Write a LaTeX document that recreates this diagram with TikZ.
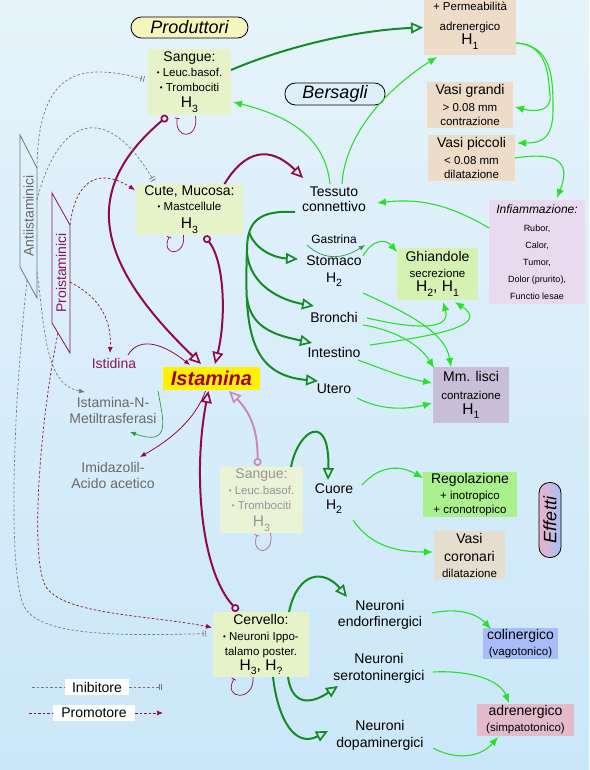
\documentclass[tikz,border=0pt]{standalone}
\usepackage{fontspec}
\setmainfont{Liberation Sans}
\usetikzlibrary{arrows.meta}
\definecolor{magc}{RGB}{145,10,80}
\definecolor{magf}{RGB}{200,140,180}
\definecolor{magl}{RGB}{175,100,155}
\definecolor{dgreen}{RGB}{20,140,35}
\definecolor{bgreen}{RGB}{40,225,40}
\definecolor{mgreen}{RGB}{40,160,60}
\definecolor{grayd}{RGB}{120,120,120}
\definecolor{graytx}{RGB}{105,105,105}
\definecolor{grayf}{RGB}{150,150,150}
\definecolor{grbox}{RGB}{230,243,200}
\definecolor{grbox2}{RGB}{234,243,214}
\definecolor{tanc}{RGB}{236,220,200}
\definecolor{vcorc}{RGB}{229,221,205}
\definecolor{inflc}{RGB}{233,218,240}
\definecolor{ghiac}{RGB}{214,242,178}
\definecolor{mmlc}{RGB}{200,190,215}
\definecolor{regoc}{RGB}{170,240,140}
\definecolor{colic}{RGB}{168,188,248}
\definecolor{adrec}{RGB}{226,186,202}
\definecolor{istc}{RGB}{160,0,70}
\definecolor{prodc}{RGB}{245,245,190}
\definecolor{bersc}{RGB}{222,239,250}
\definecolor{bgtop}{RGB}{230,243,250}
\definecolor{bgbot}{RGB}{202,231,249}
\definecolor{effa}{RGB}{168,190,248}
\definecolor{effb}{RGB}{236,178,200}
\definecolor{protx}{RGB}{140,20,90}
\newcommand\fA{\fontsize{14}{16}\selectfont}
\newcommand\fB{\fontsize{11.5}{14}\selectfont}
\newcommand\fH{\fontsize{15.5}{17}\selectfont}
\newcommand\fC{\fontsize{9}{11}\selectfont}
\newcommand\hsub[1]{\raisebox{-0.3em}{\fontsize{10.5}{11}\selectfont #1}}
\newcommand\bsk[1]{\fontsize{11}{#1}\selectfont}
\newcommand\bul{\raisebox{1.2pt}{\fontsize{8}{8}\selectfont •}}
\begin{document}
\begin{tikzpicture}[x=1pt,y=-1pt,
 box/.style={rectangle,inner sep=0pt,align=center},
 lbl/.style={inner sep=1pt,align=center},
 pill/.style={rectangle,rounded corners=10.5pt,draw=black,line width=0.8pt,inner sep=0pt},
 mth/.style={draw=magc,line width=2pt,{Circle[open,length=8pt,width=8pt,line width=1.7pt]}-{Triangle[open,length=12pt,width=11pt,line width=1.7pt]}},
 mtha/.style={draw=magc,line width=2pt,-{Triangle[open,length=12pt,width=11pt,line width=1.7pt]}},
 mthf/.style={draw=magf,line width=2pt,{Circle[open,length=8pt,width=8pt,line width=1.7pt]}-{Triangle[open,length=12pt,width=11pt,line width=1.7pt]}},
 gth/.style={draw=dgreen,line width=2pt,-{Triangle[open,length=12pt,width=11pt,line width=1.7pt]}},
 gtn/.style={draw=bgreen,line width=1.1pt,-{Latex[length=9pt,width=7.5pt]}},
 gtnm/.style={draw=mgreen,line width=0.7pt,-{Latex[length=6pt,width=5pt]}},
 mtn/.style={draw=magc,line width=0.8pt,-{Latex[length=6pt,width=5pt]}},
 inh/.style={draw=grayd,line width=0.7pt,dash pattern=on 2.5pt off 2pt,-{Bar[width=6pt,line width=0.7pt,sep=2pt]Bar[width=6pt,line width=0.7pt,sep=3pt]}},
 inhl/.style={draw=grayd,line width=0.7pt,dash pattern=on 2.5pt off 2pt},
 ginh/.style={draw=grayd,line width=0.7pt,dash pattern=on 2.5pt off 2pt,-{Latex[length=6pt,width=5pt]}},
 prm/.style={draw=magc,line width=0.7pt,dash pattern=on 2.5pt off 2pt,-{Latex[length=6pt,width=5pt]}},
 prml/.style={draw=magc,line width=0.7pt,dash pattern=on 2.5pt off 2pt},
 lp/.style={draw=magc,line width=0.7pt,-{Bar[width=5pt,line width=0.7pt,sep=2pt]}}
]
\useasboundingbox (0,0) rectangle (589,770);
\shade[top color=bgtop,bottom color=bgbot] (0,0) rectangle (589,770);

% ---------- nodes ----------
\node[pill,fill=prodc,minimum width=117pt,minimum height=21pt] (prod) at (189.5,27.5) {\fontsize{18}{18}\selectfont\itshape Produttori};
\node[pill,fill=bersc,minimum width=100pt,minimum height=22pt] (bers) at (335,94) {\fontsize{18}{18}\selectfont\itshape Bersagli};
\node[pill,rotate=90,left color=effb,right color=effa,minimum width=75pt,minimum height=22pt] (eff) at (550,520) {\fontsize{18}{18}\selectfont\itshape Effetti};

\node[box,fill=grbox,minimum width=83pt,minimum height=66pt,font=\bsk{15}] (sang1) at (189.5,82)
 {{\fA Sangue:}\\{\fB \bul\ Leuc.basof.}\\{\fB \bul\ Trombociti}\\[1pt]{\fH H\hsub{3}}};
\node[box,fill=tanc,minimum width=92pt,minimum height=58pt,font=\bsk{14}] (perm) at (470,26)
 {{\fB + Permeabilità}\\[6pt]{\fB adrenergico}\\{\fH H\hsub{1}}};
\node[box,fill=tanc,minimum width=86pt,minimum height=46pt,font=\bsk{14}] (vgr) at (470,105)
 {{\fA Vasi grandi}\\[3pt]{\fB > 0.08 mm}\\{\fB contrazione}};
\node[box,fill=tanc,minimum width=87pt,minimum height=46pt,font=\bsk{14}] (vpi) at (471.5,158)
 {{\fA Vasi piccoli}\\[3pt]{\fB < 0.08 mm}\\{\fB dilatazione}};
\node[box,fill=inflc,minimum width=96pt,minimum height=104pt,font=\bsk{17}] (infl) at (537,252)
 {{\fontsize{12}{14}\selectfont\itshape Infiammazione:}\\[1pt]{\fC Rubor,}\\{\fC Calor,}\\{\fC Tumor,}\\{\fC Dolor (prurito),}\\{\fC Functio lesae}};
\node[box,fill=grbox,minimum width=107pt,minimum height=51pt,font=\bsk{15}] (cute) at (189.5,209.5)
 {{\fA Cute, Mucosa:}\\{\fB \bul\ Mastcellule}\\[3pt]{\fH H\hsub{3}}};
\node[box,fill=ghiac,minimum width=81pt,minimum height=52pt,font=\bsk{14}] (ghia) at (437.5,274)
 {{\fA Ghiandole}\\[2pt]{\fB secrezione}\\{\fH H\hsub{2}, H\hsub{1}}};
\node[box,fill=mmlc,minimum width=76pt,minimum height=56pt,font=\bsk{15}] (mml) at (471,395)
 {{\fA Mm. lisci}\\[3pt]{\fB contrazione}\\{\fH H\hsub{1}}};
\node[box,fill=yellow,minimum width=97pt,minimum height=23pt,text=istc] (ista) at (211.5,378.5)
 {\fontsize{20}{20}\selectfont\bfseries\itshape Istamina};
\node[box,fill=grbox2,minimum width=83pt,minimum height=66pt,font=\bsk{15},text=grayf] (sang2) at (261.5,500)
 {{\fA Sangue:}\\[1pt]{\fB \bul\ Leuc.basof.}\\{\fB \bul\ Trombociti}\\[2pt]{\fH H\hsub{3}}};
\node[box,fill=regoc,minimum width=94pt,minimum height=45pt,font=\bsk{14}] (rego) at (470,494.5)
 {{\fA Regolazione}\\[2pt]{\fB + inotropico}\\{\fB + cronotropico}};
\node[box,fill=vcorc,minimum width=71pt,minimum height=48pt,font=\bsk{16}] (vcor) at (469.5,555)
 {{\fA Vasi}\\[2pt]{\fA coronari}\\{\fB dilatazione}};
\node[box,fill=grbox,minimum width=96pt,minimum height=65pt,font=\bsk{15}] (cerv) at (261,644.5)
 {{\fA Cervello:}\\[1pt]{\fB \bul\ Neuroni Ippo-}\\{\fB talamo poster.}\\{\fH H\hsub{3}, H\hsub{?}}};
\node[box,fill=colic,minimum width=75pt,minimum height=31pt,font=\bsk{16}] (coli) at (520.5,643.5)
 {{\fA colinergico}\\{\fB (vagotonico)}};
\node[box,fill=adrec,minimum width=97pt,minimum height=32pt,font=\bsk{16}] (adre) at (525.5,720)
 {{\fA adrenergico}\\{\fB (simpatotonico)}};
\node[box,fill=white,minimum width=64pt,minimum height=16pt] (leg1) at (97,687) {\fA Inibitore};
\node[box,fill=white,minimum width=82pt,minimum height=16pt] (leg2) at (94,713) {\fA Promotore};

\node[lbl,font=\bsk{15}] (tess) at (334,199) {{\fA Tessuto}\\{\fA connettivo}};
\node[lbl] (gast) at (334,239) {\fontsize{12}{14}\selectfont Gastrina};
\node[lbl,font=\bsk{17}] (stom) at (334,271) {{\fA Stomaco}\\{\fA H\hsub{2}}};
\node[lbl] (bron) at (334,317) {\fA Bronchi};
\node[lbl] (inte) at (334,352) {\fA Intestino};
\node[lbl] (uter) at (334,389) {\fA Utero};
\node[lbl,font=\bsk{16}] (cuor) at (334,499) {{\fA Cuore}\\{\fA H\hsub{2}}};
\node[lbl,font=\bsk{16}] (nend) at (380,615) {{\fA Neuroni}\\{\fA endorfinergici}};
\node[lbl,font=\bsk{17}] (nser) at (379,668) {{\fA Neuroni}\\{\fA serotoninergici}};
\node[lbl,font=\bsk{17}] (ndop) at (380,735) {{\fA Neuroni}\\{\fA dopaminergici}};
\node[lbl,text=protx] (isti) at (114,363) {\fA Istidina};
\node[lbl,font=\bsk{16},text=graytx] (inmt) at (113,410) {{\fA Istamina-N-}\\{\fA Metiltrasferasi}};
\node[lbl,font=\bsk{16},text=graytx] (imid) at (113,475) {{\fA Imidazolil-}\\{\fA Acido acetico}};

% side labels
\coordinate (aTL) at (20,135); \coordinate (aTR) at (37,168);
\coordinate (aBR) at (37,298); \coordinate (aBL) at (20,267);
\coordinate (aR1) at (37,200); \coordinate (aR2) at (37,272); \coordinate (aB) at (27,280);
\draw[grayd,line width=0.8pt] (aTL) -- (aTR) -- (aBR) -- (aBL) -- cycle;
\node[rotate=90,text=graytx,inner sep=0pt] (anti) at (28.5,216) {\fA Antiistaminici};
\coordinate (pTL) at (52,193); \coordinate (pTR) at (70,225);
\coordinate (pBR) at (70,353); \coordinate (pBL) at (52,323);
\coordinate (pR) at (70,282); \coordinate (pB) at (58,333);
\draw[protx,line width=0.8pt] (pTL) -- (pTR) -- (pBR) -- (pBL) -- cycle;
\node[rotate=90,text=protx,inner sep=0pt] (pro) at (61,273) {\fA Proistaminici};

% ---------- thick magenta ----------
\draw[mth] ([shift={(-22,34)}]sang1.center) .. controls (80,190) and (95,262) .. ([shift={(-10.5,-14.5)}]ista.center);
\draw[mth] ([shift={(15,26.5)}]cute.center) .. controls (225,262) and (226,320) .. ([shift={(3.5,-14.5)}]ista.center);
\draw[mtha] ([shift={(35,-25.5)}]cute.center) .. controls (245,150) and (270,145) .. ([shift={(-31,-21)}]tess.center);
\draw[mth] ([shift={(-23,-33.5)}]cerv.center) .. controls (200,570) and (193,470) .. ([shift={(-3,12.5)}]ista.center);
\draw[mthf] ([shift={(-4,-34)}]sang2.center) .. controls (258,430) and (250,412) .. ([shift={(17.5,12.5)}]ista.center);

% ---------- thick green ----------
\draw[gth] ([shift={(41.5,-12)}]sang1.center) .. controls (290,45) and (360,30) .. ([shift={(-47,1.5)}]perm.center);
\coordinate (tr0) at (247,250);
\coordinate (tr1) at (249,232);
\coordinate (tr2) at (247,253);
\coordinate (tr3) at (247,297);
\draw[gth] ([shift={(-39,13)}]tess.center) .. controls (258,210) and (247,222) .. (tr0) .. controls (244,330) and (250,375) .. ([shift={(-16,-8)}]uter.center);
\draw[gth] (tr1) .. controls (255,250) and (275,258) .. ([shift={(-36,-12)}]stom.center);
\draw[gth] (tr2) .. controls (250,285) and (280,300) .. ([shift={(-20,-11)}]bron.center);
\draw[gth] (tr3) .. controls (250,330) and (280,336) .. ([shift={(-22,-9)}]inte.center);
\draw[gth] ([shift={(29.5,-33)}]sang2.center) .. controls (298,430) and (330,410) .. ([shift={(-6,-19)}]cuor.center);
\draw[gth] ([shift={(28,-32.5)}]cerv.center) .. controls (298,570) and (325,570) .. ([shift={(-33,-18)}]nend.center);
\draw[gth] ([shift={(27,32.5)}]cerv.center) .. controls (292,705) and (310,705) .. ([shift={(-41,18)}]nser.center);
\draw[gth] ([shift={(12,32.5)}]cerv.center) .. controls (278,720) and (295,748) .. ([shift={(-52,-4)}]ndop.center);

% ---------- thin bright green ----------
\draw[gtn] ([shift={(-4,-15)}]tess.center) .. controls (325,135) and (285,115) .. ([shift={(43.5,20)}]sang1.center);
\draw[gtn] ([shift={(8,-15)}]tess.center) .. controls (345,135) and (385,90) .. ([shift={(-33,31)}]perm.center);
\draw[gtn] ([shift={(46,17)}]perm.center) .. controls (550,45) and (548,80) .. (550,95) .. controls (552,112) and (535,112) .. ([shift={(45,2)}]vgr.center);
\draw[gtn] ([shift={(46,17)}]perm.center) .. controls (553,45) and (553,80) .. (553,110) .. controls (553,140) and (540,143) .. ([shift={(45.5,-15)}]vpi.center);
\draw[gtn] ([shift={(43.5,0)}]vpi.center) .. controls (555,152) and (572,160) .. ([shift={(20,-54)}]infl.center);
\draw[gtn] ([shift={(-48,-24)}]infl.center) .. controls (450,205) and (420,198) .. ([shift={(43,4)}]tess.center);
\draw[gtnm] ([shift={(-27,6)}]gast.center) .. controls (325,262) and (345,258) .. ([shift={(31,6)}]gast.center);
\draw[gtn] ([shift={(29,-15)}]stom.center) .. controls (372,240) and (385,238) .. ([shift={(-40.5,-22)}]ghia.center);
\draw[gtn] ([shift={(29,22)}]stom.center) .. controls (400,310) and (445,330) .. ([shift={(-20,-28)}]mml.center);
\draw[gtn] ([shift={(33,1)}]bron.center) .. controls (410,328) and (452,332) .. ([shift={(5.5,28)}]ghia.center);
\draw[gtn] ([shift={(29,8)}]bron.center) .. controls (395,330) and (420,345) .. ([shift={(-37,-27)}]mml.center);
\draw[gtn] ([shift={(36,-7)}]inte.center) .. controls (440,335) and (490,325) .. ([shift={(17.5,28)}]ghia.center);
\draw[gtn] ([shift={(24,8)}]inte.center) .. controls (385,370) and (405,378) .. ([shift={(-39,-12)}]mml.center);
\draw[gtn] ([shift={(23,9)}]uter.center) .. controls (380,410) and (405,410) .. ([shift={(-39,8)}]mml.center);
\draw[gtn] ([shift={(28,-14)}]cuor.center) .. controls (380,465) and (400,465) .. ([shift={(-47,-16.5)}]rego.center);
\draw[gtn] ([shift={(19,21)}]cuor.center) .. controls (370,545) and (395,552) .. ([shift={(-36.5,-3)}]vcor.center);
\draw[gtn] ([shift={(52,-2)}]nend.center) .. controls (455,608) and (475,612) .. ([shift={(-29.5,-14.5)}]coli.center);
\draw[gtn] ([shift={(54,4)}]nser.center) .. controls (470,670) and (500,680) .. ([shift={(-16.5,-17)}]adre.center);
\draw[gtn] ([shift={(53,13)}]ndop.center) .. controls (455,760) and (480,758) .. ([shift={(-27.5,17)}]adre.center);

% ---------- thin magenta / green ----------
\draw[mtn] ([shift={(14,-8)}]isti.center) .. controls (140,335) and (165,345) .. ([shift={(-21.5,-13.5)}]ista.center);
\draw[mtn] ([shift={(-6,12.5)}]ista.center) .. controls (195,420) and (170,440) .. ([shift={(27,-18)}]imid.center);
\draw[gtnm] ([shift={(-53.5,12.5)}]ista.center) .. controls (163,420) and (172,447) .. ([shift={(17,22)}]inmt.center);

% ---------- dashed ----------
\draw[inh] (aTR) .. controls (38,70) and (80,62) .. ([shift={(-42.5,-2)}]sang1.center);
\draw[inh] (aR1) .. controls (60,110) and (110,105) .. ([shift={(-34.5,-26.5)}]cute.center);
\draw[ginh] (aR2) .. controls (45,330) and (45,385) .. ([shift={(-28,-18)}]inmt.center);
\draw[inh] (aB) .. controls (12,420) and (8,580) .. (25,608) .. controls (42,636) and (120,636) .. ([shift={(-52,-11)}]cerv.center);
\draw[prm] (pTR) .. controls (75,185) and (95,165) .. ([shift={(-54.5,-19.5)}]cute.center);
\draw[prm] (pR) .. controls (95,295) and (112,315) .. ([shift={(-4,-10)}]isti.center);
\draw[prm] (pB) .. controls (40,420) and (30,555) .. (45,585) .. controls (60,615) and (150,615) .. ([shift={(-49,-17)}]cerv.center);

% ---------- self loops ----------
\draw[lp] ([shift={(6,34)}]sang1.center) .. controls (199,140) and (174,140) .. ([shift={(-12,34)}]sang1.center);
\draw[lp] ([shift={(-6,25.5)}]cute.center) .. controls (186,258) and (160,256) .. ([shift={(-19.5,25.5)}]cute.center);
\draw[lp,draw=magl] ([shift={(9,33)}]sang2.center) .. controls (275,556) and (250,556) .. ([shift={(-4,33)}]sang2.center);
\draw[lp] ([shift={(-8,32.5)}]cerv.center) .. controls (255,702) and (222,700) .. ([shift={(-26,32.5)}]cerv.center);

% ---------- legend ----------
\coordinate (lgA) at (32,687); \coordinate (lgB) at (165,687);
\coordinate (lgC) at (29,713); \coordinate (lgD) at (163,713);
\draw[inhl] (lgA) -- (leg1);
\draw[inh] (leg1) -- (lgB);
\draw[prml] (lgC) -- (leg2);
\draw[prm] (leg2) -- (lgD);
\end{tikzpicture}
\end{document}
